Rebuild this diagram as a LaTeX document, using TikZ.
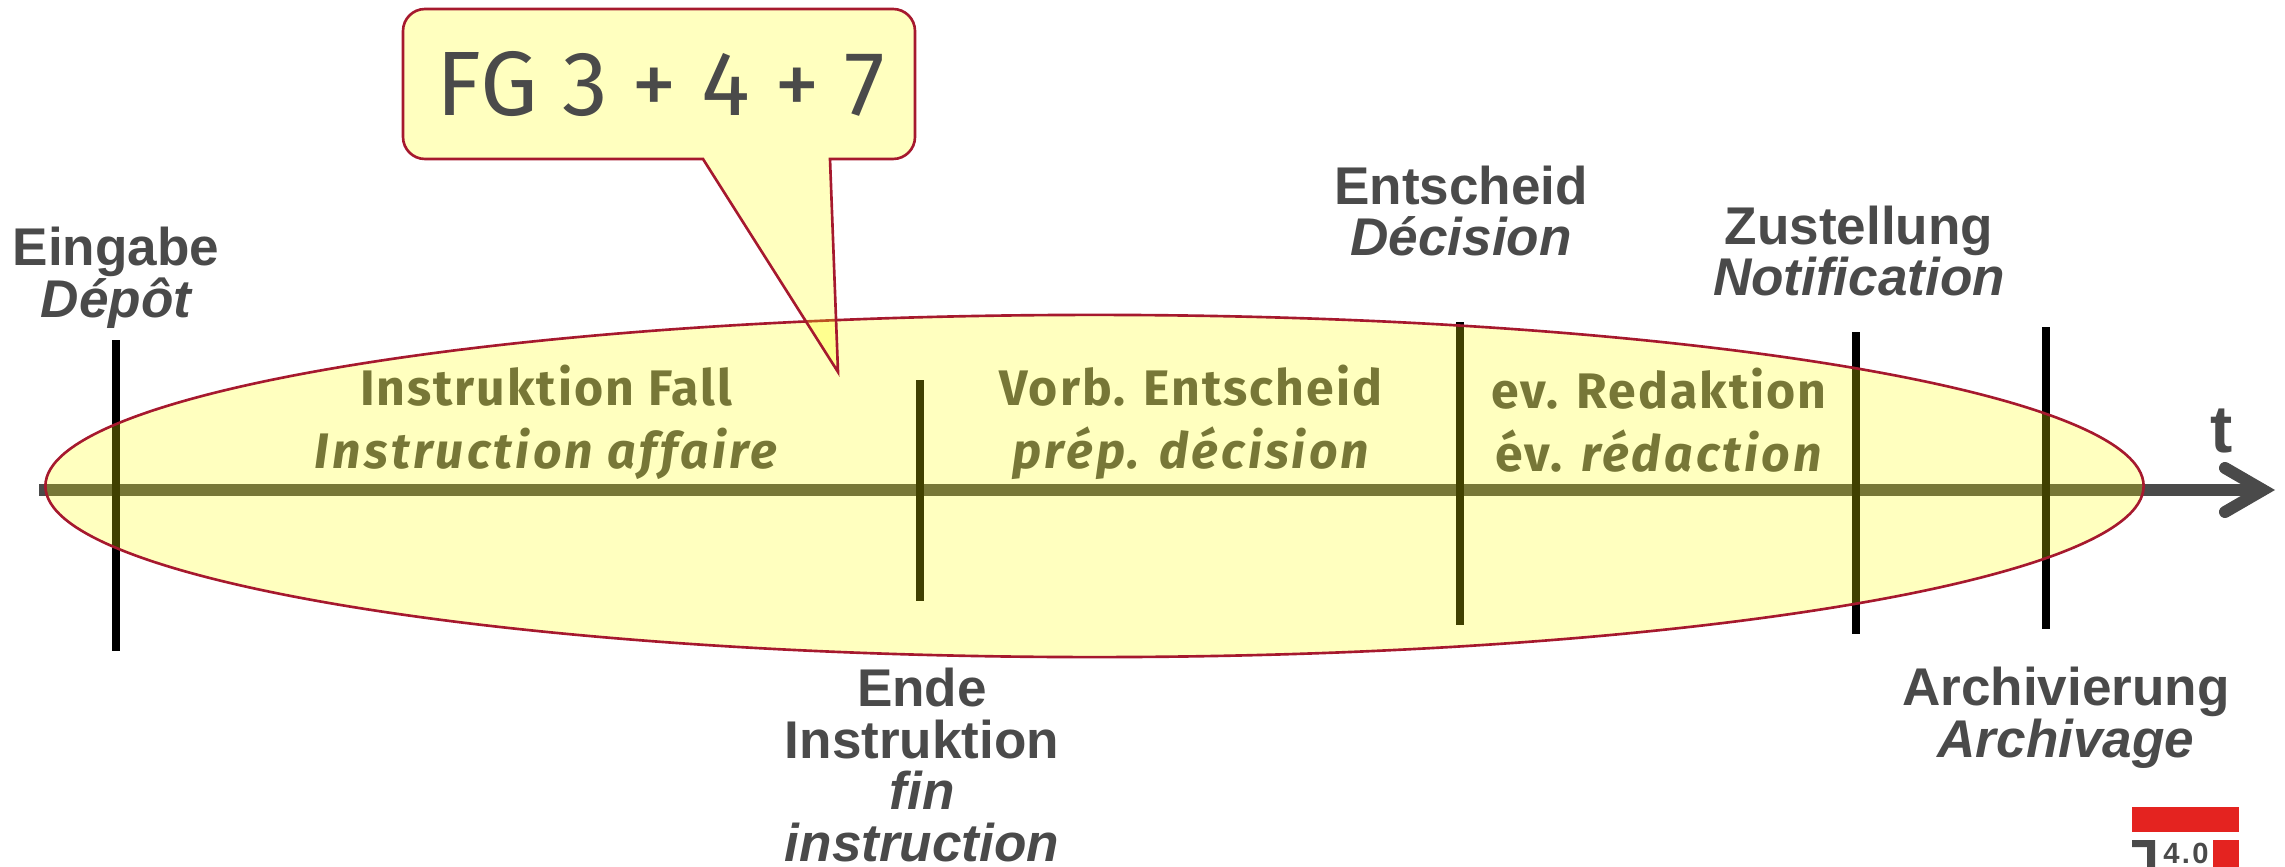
\documentclass[tikz,border=0pt]{standalone}
\usepackage{fontspec}
\setmainfont{Liberation Sans}
\newfontfamily\innerfont[LetterSpace=4]{Fira Sans}
\newfontfamily\innerital[LetterSpace=6.5]{Fira Sans}
\newfontfamily\fgfont[WordSpace=1.0]{Fira Sans}
\newfontfamily\logofont[LetterSpace=8]{Liberation Sans}
\usetikzlibrary{shapes.geometric}
\definecolor{txtgray}{HTML}{4A4A4A}
\definecolor{edgered}{HTML}{A6192E}
\definecolor{logored}{HTML}{E42320}
\definecolor{tintyellow}{RGB}{255,255,0}
\tikzset{
  marklabel/.style={align=center,text=txtgray,font=\fontsize{15.1}{14.7}\selectfont\bfseries,inner sep=0pt},
  phaselabel/.style={align=center,text=txtgray,font=\fontsize{14.2}{17.9}\selectfont\innerfont\bfseries,inner sep=0pt},
  tick/.style={line width=8*0.2845pt,black},
  tintfill/.style={fill=tintyellow,fill opacity=.25,draw=edgered,line width=.75pt,text opacity=1},
}
\newcommand{\phit}{\innerital\bfseries\itshape}
\begin{document}
\begin{tikzpicture}[x=0.01cm,y=-0.01cm]
\useasboundingbox (0,0) rectangle (2285,867);
% axis
\coordinate (axs) at (39,490);
\coordinate (axe) at (2263,490);
\coordinate (hu) at (2225,468);
\coordinate (hd) at (2225,512);
\draw[line width=12*0.2845pt,txtgray] (axs) -- (axe);
\draw[line width=12*0.2845pt,txtgray,line cap=round,miter limit=10] (hu) -- (axe) -- (hd);
% ticks
\coordinate (t1a) at (116,340); \coordinate (t1b) at (116,651);
\coordinate (t2a) at (920,380); \coordinate (t2b) at (920,601);
\coordinate (t3a) at (1460,322); \coordinate (t3b) at (1460,625);
\coordinate (t4a) at (1856,332); \coordinate (t4b) at (1856,634);
\coordinate (t5a) at (2046,327); \coordinate (t5b) at (2046,629);
\draw[tick] (t1a) -- (t1b);
\draw[tick] (t2a) -- (t2b);
\draw[tick] (t3a) -- (t3b);
\draw[tick] (t4a) -- (t4b);
\draw[tick] (t5a) -- (t5b);
% phase labels under the tint
\node[phaselabel] (p1) at (546,422.5) {Instruktion Fall\\\phit Instruction affaire};
\node[phaselabel] (p2) at (1191,422.5) {Vorb. Entscheid\\\phit prép. décision};
\node[phaselabel] (p3) at (1659,420) {ev. Redaktion\\év. \phit rédaction};
% ellipse
\node[ellipse,tintfill,minimum width=20.97cm,minimum height=3.42cm,inner sep=0pt] (ell) at (1094.5,486) {};
% callout
\draw[tintfill] (703,159) [rounded corners=6.26pt] -- (403,159) -- (403,9) -- (915,9) -- (915,159) -- (870,159)
  [sharp corners] -- (830,159) -- (838,372) -- cycle;
\node[text=txtgray,font=\fontsize{26}{30}\selectfont\fgfont,inner sep=0pt] (fg) at (661,84) {FG 3 + 4 + 7};
% milestone labels
\node[marklabel] (l1) at (116,278) {Eingabe\\\itshape Dépôt};
\node[marklabel] (l2) at (1461,211) {Entscheid\\\itshape Décision};
\node[marklabel] (l3) at (1859,251) {Zustellung\\\itshape Notification};
\node[marklabel] (l4) at (922,765) {Ende\\Instruktion\\\itshape fin\\\itshape instruction};
\node[marklabel] (l5) at (2066,718) {Archivierung\\\itshape Archivage};
\node[text=txtgray,font=\fontsize{19}{20}\selectfont\bfseries,inner sep=0pt] (tl) at (2222,431) {t};
% logo
\fill[logored] (2132,807) rectangle (2239,832);
\fill[logored] (2213,840) rectangle (2239,867);
\fill[txtgray] (2132,840) -- (2155,840) -- (2155,867) -- (2147,867) -- (2147,847) -- (2132,847) -- cycle;
\node[text=txtgray,font=\fontsize{8.3}{9}\selectfont\logofont\bfseries,inner sep=0pt] (logo) at (2186,853) {4.0};
\end{tikzpicture}
\end{document}
